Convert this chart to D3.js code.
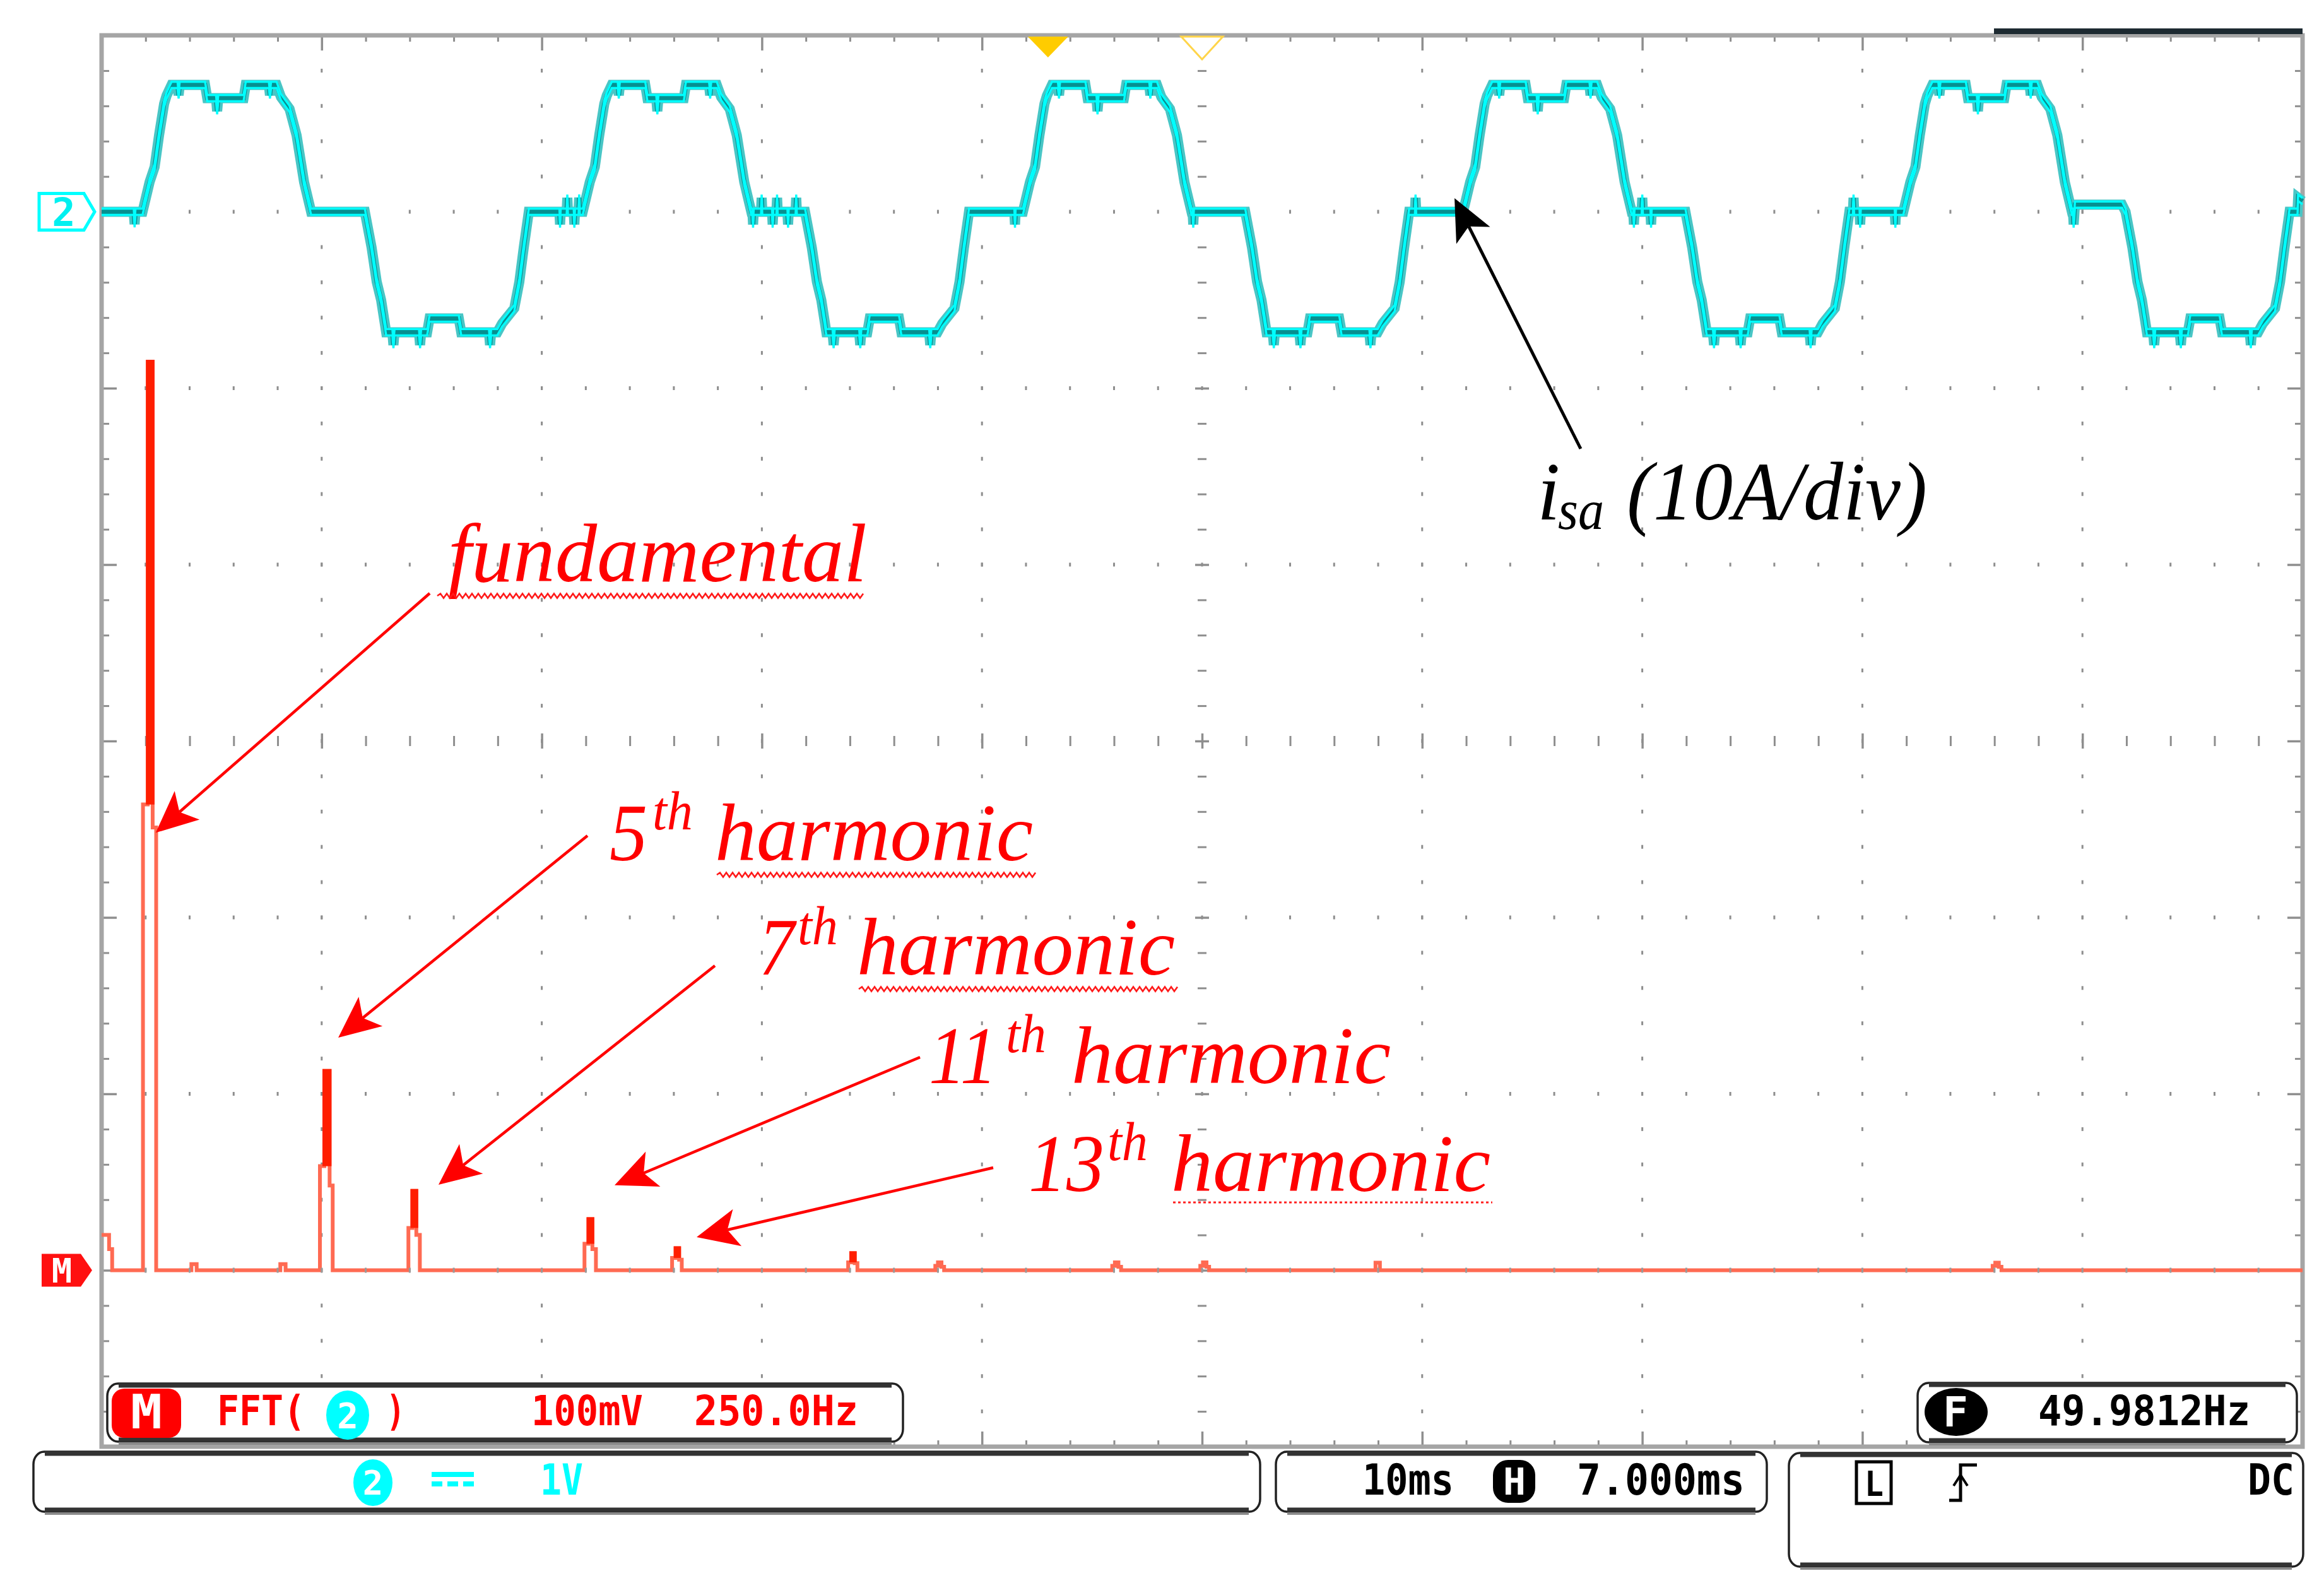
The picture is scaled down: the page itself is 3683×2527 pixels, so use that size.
<!DOCTYPE html>
<html><head><meta charset="utf-8">
<script src="https://cdn.jsdelivr.net/npm/d3@7"></script>
<style>html,body{margin:0;padding:0;background:#fff}svg{display:block}</style>
</head><body><svg id="c"></svg>
<script>
// ---------------- DATA ----------------
const timeDomainMs = [0, 100];      // 10 ms/div, 10 divisions
const currentDomainA = [-70, 10];   // 10 A/div, ch2 ground one division below top
const freqDomainHz = [0, 2500];     // FFT 250 Hz/div
const fftDomainMv = [-100, 700];    // FFT 100 mV/div, FFT reference two divisions above bottom

// measured phase current i_sa : [time ms, current A]
const isaCycle1 = [[0,0],[1.46,0],[1.5,-0.7],[1.54,0],[1.86,0],[2.18,1.68],[2.41,2.54],[2.61,4.33],[2.84,6.12],[2.95,6.58],[3.18,7.19],[3.45,7.19],[3.5,6.6],[3.55,7.19],[4.7,7.19],[4.8,6.44],[5.2,6.44],[5.25,5.7],[5.3,6.44],[6.45,6.44],[6.55,7.19],[7.6,7.19],[7.65,6.6],[7.7,7.19],[7.95,7.19],[8.15,6.5],[8.54,5.83],[8.86,4.33],[9.2,1.68],[9.52,0],[11.96,0],[12.27,-2.04],[12.5,-3.97],[12.7,-5],[12.93,-6.83],[13.21,-6.83],[13.26,-7.55],[13.31,-6.83],[14.42,-6.83],[14.47,-7.55],[14.52,-6.83],[14.79,-6.83],[14.9,-6.05],[16.23,-6.05],[16.34,-6.83],[17.6,-6.83],[17.65,-7.55],[17.7,-6.83],[17.98,-6.83],[18.2,-6.33],[18.75,-5.47],[18.98,-3.97],[19.18,-2.04],[19.41,0]];
const isaCycle2 = [[20.8,0],[20.83,-0.72],[20.86,0],[21.13,0],[21.16,0.79],[21.19,0],[21.45,0],[21.48,-0.72],[21.51,0],[21.67,0],[21.7,0.8],[21.73,0],[21.86,0],[22.18,1.68],[22.41,2.54],[22.61,4.33],[22.84,6.12],[22.95,6.58],[23.18,7.19],[23.45,7.19],[23.5,6.6],[23.55,7.19],[24.7,7.19],[24.8,6.44],[25.2,6.44],[25.25,5.7],[25.3,6.44],[26.45,6.44],[26.55,7.19],[27.6,7.19],[27.65,6.6],[27.7,7.19],[27.95,7.19],[28.15,6.5],[28.54,5.83],[28.86,4.33],[29.2,1.68],[29.52,0],[29.57,0],[29.6,-0.72],[29.63,0],[29.96,0],[29.99,0.79],[30.02,0],[30.46,0],[30.49,-0.72],[30.52,0],[30.66,0],[30.69,0.79],[30.72,0],[31.16,0],[31.19,-0.72],[31.22,0],[31.53,0],[31.56,0.79],[31.59,0],[31.96,0],[32.27,-2.04],[32.5,-3.97],[32.7,-5],[32.93,-6.83],[33.21,-6.83],[33.26,-7.55],[33.31,-6.83],[34.42,-6.83],[34.47,-7.55],[34.52,-6.83],[34.79,-6.83],[34.9,-6.05],[36.23,-6.05],[36.34,-6.83],[37.6,-6.83],[37.65,-7.55],[37.7,-6.83],[37.98,-6.83],[38.2,-6.33],[38.75,-5.47],[38.98,-3.97],[39.18,-2.04],[39.41,0]];
const isaCycle3 = [[41.47,0],[41.5,-0.72],[41.53,0],[41.86,0],[42.18,1.68],[42.41,2.54],[42.61,4.33],[42.84,6.12],[42.95,6.58],[43.18,7.19],[43.45,7.19],[43.5,6.6],[43.55,7.19],[44.7,7.19],[44.8,6.44],[45.2,6.44],[45.25,5.7],[45.3,6.44],[46.45,6.44],[46.55,7.19],[47.6,7.19],[47.65,6.6],[47.7,7.19],[47.95,7.19],[48.15,6.5],[48.54,5.83],[48.86,4.33],[49.2,1.68],[49.52,0],[49.57,0],[49.6,-0.72],[49.63,0],[51.96,0],[52.27,-2.04],[52.5,-3.97],[52.7,-5],[52.93,-6.83],[53.21,-6.83],[53.26,-7.55],[53.31,-6.83],[54.42,-6.83],[54.47,-7.55],[54.52,-6.83],[54.79,-6.83],[54.9,-6.05],[56.23,-6.05],[56.34,-6.83],[57.6,-6.83],[57.65,-7.55],[57.7,-6.83],[57.98,-6.83],[58.2,-6.33],[58.75,-5.47],[58.98,-3.97],[59.18,-2.04],[59.41,0]];
const isaCycle4 = [[59.67,0],[59.7,0.79],[59.73,0],[61.86,0],[62.18,1.68],[62.41,2.54],[62.61,4.33],[62.84,6.12],[62.95,6.58],[63.18,7.19],[63.45,7.19],[63.5,6.6],[63.55,7.19],[64.7,7.19],[64.8,6.44],[65.2,6.44],[65.25,5.7],[65.3,6.44],[66.45,6.44],[66.55,7.19],[67.6,7.19],[67.65,6.6],[67.7,7.19],[67.95,7.19],[68.15,6.5],[68.54,5.83],[68.86,4.33],[69.2,1.68],[69.52,0],[69.59,0],[69.62,-0.72],[69.65,0],[69.97,0],[70,0.79],[70.03,0],[70.37,0],[70.4,-0.72],[70.43,0],[71.96,0],[72.27,-2.04],[72.5,-3.97],[72.7,-5],[72.93,-6.83],[73.21,-6.83],[73.26,-7.55],[73.31,-6.83],[74.42,-6.83],[74.47,-7.55],[74.52,-6.83],[74.79,-6.83],[74.9,-6.05],[76.23,-6.05],[76.34,-6.83],[77.6,-6.83],[77.65,-7.55],[77.7,-6.83],[77.98,-6.83],[78.2,-6.33],[78.75,-5.47],[78.98,-3.97],[79.18,-2.04],[79.41,0]];
const isaCycle5 = [[79.57,0],[79.6,0.79],[79.63,0],[79.87,0],[79.9,-0.72],[79.93,0],[81.47,0],[81.5,-0.72],[81.53,0],[81.86,0],[82.18,1.68],[82.41,2.54],[82.61,4.33],[82.84,6.12],[82.95,6.58],[83.18,7.19],[83.45,7.19],[83.5,6.6],[83.55,7.19],[84.7,7.19],[84.8,6.44],[85.2,6.44],[85.25,5.7],[85.3,6.44],[86.45,6.44],[86.55,7.19],[87.6,7.19],[87.65,6.6],[87.7,7.19],[87.95,7.19],[88.15,6.5],[88.54,5.83],[88.86,4.33],[89.2,1.68],[89.52,0],[89.57,0],[89.6,-0.72],[89.66,0.4],[91.8,0.4],[91.96,0],[92.27,-2.04],[92.5,-3.97],[92.7,-5],[92.93,-6.83],[93.21,-6.83],[93.26,-7.55],[93.31,-6.83],[94.42,-6.83],[94.47,-7.55],[94.52,-6.83],[94.79,-6.83],[94.9,-6.05],[96.23,-6.05],[96.34,-6.83],[97.6,-6.83],[97.65,-7.55],[97.7,-6.83],[97.98,-6.83],[98.2,-6.33],[98.75,-5.47],[98.98,-3.97],[99.18,-2.04],[99.41,0],[99.77,0],[99.8,0.79],[100,0.6]];

// FFT of ch2 : stepped spectrum, bin start frequency (Hz) and magnitude (mV)
const fftHz = [0,8.5,12, 47,52.5,58,62, 102,108, 203,209, 248,253,259,262.5, 348.5,353,357.5,361.5, 548.5,553,557.5,561.5, 648,652,656,659, 848,851.5,855.5,858.5, 947,950,954,957, 1148,1151,1155,1158, 1248,1251,1255,1258, 1447,1452, 2148,2151,2155,2158];
const fftMv = [20,12,0, 264,515,251,0, 3.5,0, 3.5,0, 59,113,48,0, 24,45,20,0, 15,29,12,0, 7,12.5,6,0, 4.5,9.7,4,0, 2.5,4.5,2,0, 2.5,4.5,2,0, 2.5,4.5,2,0, 4.3,0, 2.5,4.3,2,0];

// annotation targets [Hz, mV] for the harmonic arrows
const harmonicOrders = ["", "5", "7", "11", "13"];
const harmonicArrowHz = [61.5, 268.8, 382.7, 582.7, 675.9];
const harmonicArrowMv = [248, 131.8, 48.5, 48.2, 18.8];
const isaArrowPoint = [61.47, 0.77];

// readout texts
const fftReadout = ["FFT(", ")", "100mV", "250.0Hz"];
const chReadout = ["1V"];
const timeReadout = ["10ms", "7.000ms"];
const freqReadout = ["49.9812Hz"];
const triggerOffsetMs = 7.0;

// ---------------- SETUP ----------------
const W = 3683, H = 2527;
const svg = d3.select("#c").attr("width", W).attr("height", H);
svg.append("rect").attr("width", W).attr("height", H).attr("fill", "#fff");

const X0 = 161, X1 = 3649, Y0 = 56, Y1 = 2292;
const xTime = d3.scaleLinear().domain(timeDomainMs).range([X0, X1]);
const yCur = d3.scaleLinear().domain(currentDomainA).range([Y1, Y0]);
const xFreq = d3.scaleLinear().domain(freqDomainHz).range([X0, X1]);
const yFft = d3.scaleLinear().domain(fftDomainMv).range([Y1, Y0]);

const msMinor = d3.range(0, 101, 2).filter(v => v % 10 !== 0);
const msMajor = d3.range(10, 100, 10);
const msAll = d3.range(2, 100, 2);
const aMinor = d3.range(-70, 11, 2).filter(v => v % 10 !== 0);
const aMajor = d3.range(-60, 10, 10);
const aAll = d3.range(-68, 10, 2);

const GRID = "#8e8e8e";
function axisG(parent, axis, tx, ty, w) {
  const g = parent.append("g").attr("transform", `translate(${tx},${ty})`).call(axis);
  g.select(".domain").remove();
  g.selectAll("text").remove();
  g.selectAll("line").attr("stroke", GRID).attr("stroke-width", w);
  return g;
}

// ---------------- GRATICULE ----------------
const grid = svg.append("g");
aMajor.filter(a => a !== -30).forEach(a => {
  grid.append("g").selectAll("rect").data(msAll).join("rect")
    .attr("x", d => xTime(d) - 1.5).attr("y", yCur(a) - 3).attr("width", 3).attr("height", 6).attr("fill", GRID);
});
msMajor.filter(m => m !== 50).forEach(m => {
  grid.append("g").selectAll("rect").data(aAll).join("rect")
    .attr("x", xTime(m) - 1.5).attr("y", d => yCur(d) - 3).attr("width", 3).attr("height", 6).attr("fill", GRID);
});
axisG(grid, d3.axisBottom(xTime).tickValues(msMinor).tickSize(16).tickFormat(""), 0, yCur(-30) - 8, 3);
axisG(grid, d3.axisBottom(xTime).tickValues(msMajor).tickSize(24).tickFormat(""), 0, yCur(-30) - 12, 3.5);
axisG(grid, d3.axisRight(yCur).tickValues(aMinor).tickSize(14).tickFormat(""), xTime(50) - 7, 0, 3);
axisG(grid, d3.axisRight(yCur).tickValues(aMajor).tickSize(22).tickFormat(""), xTime(50) - 11, 0, 3.5);
axisG(grid, d3.axisBottom(xTime).tickValues(msMinor).tickSize(10).tickFormat(""), 0, Y0, 3);
axisG(grid, d3.axisBottom(xTime).tickValues(msMajor).tickSize(24).tickFormat(""), 0, Y0, 3.5);
axisG(grid, d3.axisTop(xTime).tickValues(msMinor).tickSize(10).tickFormat(""), 0, Y1, 3);
axisG(grid, d3.axisTop(xTime).tickValues(msMajor).tickSize(24).tickFormat(""), 0, Y1, 3.5);
axisG(grid, d3.axisRight(yCur).tickValues(aMinor).tickSize(12).tickFormat(""), X0, 0, 3);
axisG(grid, d3.axisRight(yCur).tickValues(aMajor).tickSize(24).tickFormat(""), X0, 0, 3.5);
axisG(grid, d3.axisLeft(yCur).tickValues(aMinor).tickSize(12).tickFormat(""), X1, 0, 3);
axisG(grid, d3.axisLeft(yCur).tickValues(aMajor).tickSize(24).tickFormat(""), X1, 0, 3.5);
grid.append("rect").attr("x", X0).attr("y", Y0).attr("width", X1 - X0).attr("height", Y1 - Y0)
  .attr("fill", "none").attr("stroke", "#a5a5a5").attr("stroke-width", 7);
svg.append("rect").attr("x", 3160).attr("y", 45).attr("width", X1 - 3160).attr("height", 9).attr("fill", "#1d2a31");

const trigX = xTime(50 - triggerOffsetMs), cenX = xTime(50);
svg.append("path").attr("d", `M${trigX - 32},${Y0 + 2} L${trigX + 32},${Y0 + 2} L${trigX},${Y0 + 35} Z`).attr("fill", "#ffcc00");
svg.append("path").attr("d", `M${cenX - 33},${Y0 + 2} L${cenX + 33},${Y0 + 2} L${cenX},${Y0 + 38} Z`).attr("fill", "#fff").attr("stroke", "#ffd54a").attr("stroke-width", 3);

// ---------------- FFT TRACE ----------------
const fftPts = fftHz.map((h, i) => [h, fftMv[i]]);
fftPts.push([freqDomainHz[1], 0]);
const fftLine = d3.line().x(d => xFreq(d[0])).y(d => yFft(d[1])).curve(d3.curveStepAfter);
const fftG = svg.append("g");
fftG.append("path").attr("d", fftLine(fftPts)).attr("fill", "none")
  .attr("stroke", "#ff6a52").attr("stroke-width", 6).attr("stroke-linejoin", "miter");
fftPts.forEach((p, i) => {
  if (i === 0 || i >= fftPts.length - 1) return;
  const prev = fftPts[i - 1][1], next = fftPts[i + 1][1];
  if (p[1] > prev && p[1] > next && p[1] >= 9) {
    const xa = xFreq(p[0]), xb = xFreq(fftPts[i + 1][0]);
    const yt = yFft(p[1]), yb = yFft(Math.max(prev, next));
    fftG.append("rect").attr("x", xa - 3).attr("y", yt - 3).attr("width", xb - xa + 6).attr("height", yb - yt + 3).attr("fill", "#ff1e00");
  }
});
svg.append("g").selectAll("rect").data(msAll).join("rect")
  .attr("x", d => xTime(d) - 1.5).attr("y", yFft(0) - 4).attr("width", 3).attr("height", 8).attr("fill", "#9a9a9a");

// ---------------- CURRENT TRACE ----------------
const isaTrace = [].concat(isaCycle1, isaCycle2, isaCycle3, isaCycle4, isaCycle5);
const curLine = d3.line().x(d => xTime(d[0])).y(d => yCur(d[1]));
const tg = svg.append("g").attr("fill", "none").attr("stroke-linejoin", "miter");
tg.append("path").attr("d", curLine(isaTrace)).attr("stroke", "#48c6c6").attr("stroke-width", 16);
tg.append("path").attr("d", curLine(isaTrace)).attr("stroke", "#078f90").attr("stroke-width", 7);
tg.append("path").attr("d", curLine(isaTrace)).attr("transform", "translate(0,-5)").attr("stroke", "#00ffff").attr("stroke-width", 3.4);
tg.append("path").attr("d", curLine(isaTrace)).attr("transform", "translate(0,5)").attr("stroke", "#00ffff").attr("stroke-width", 3.4);

// channel markers
svg.append("path").attr("d", `M62,${yCur(0) - 29} H133 L150,${yCur(0)} L133,${yCur(0) + 29} H62 Z`)
  .attr("fill", "#fff").attr("stroke", "#00ffff").attr("stroke-width", 5);
svg.append("text").attr("x", 101).attr("y", yCur(0) + 22).attr("text-anchor", "middle")
  .attr("font-family", "DejaVu Sans Mono").attr("font-weight", "bold").attr("font-size", 62).attr("fill", "#00f0f0").text("2");
svg.append("path").attr("d", `M66,${yFft(0) - 26} H128 L146,${yFft(0)} L128,${yFft(0) + 26} H66 Z`).attr("fill", "#ff1010");
svg.append("text").attr("x", 98).attr("y", yFft(0) + 19).attr("text-anchor", "middle")
  .attr("font-family", "DejaVu Sans Mono").attr("font-weight", "bold").attr("font-size", 54).attr("fill", "#fff").text("M");

// ---------------- ANNOTATIONS ----------------
const ann = svg.append("g");
function arrow(x0, y0, x1, y1, color, w) {
  const dx = x1 - x0, dy = y1 - y0, L = Math.hypot(dx, dy), ux = dx / L, uy = dy / L, px = -uy, py = ux;
  const len = 66, hw = 30, notch = 50;
  const bx = x1 - ux * len, by = y1 - uy * len, nx = x1 - ux * notch, ny = y1 - uy * notch;
  ann.append("line").attr("x1", x0).attr("y1", y0).attr("x2", nx).attr("y2", ny).attr("stroke", color).attr("stroke-width", w);
  ann.append("path").attr("d", `M${x1},${y1} L${bx + px * hw},${by + py * hw} L${nx},${ny} L${bx - px * hw},${by - py * hw} Z`).attr("fill", color);
}
function squiggle(x0, x1, y) {
  let d = `M${x0},${y}`, up = true;
  for (let x = x0 + 5; x <= x1; x += 5) { d += ` L${x},${y + (up ? -3.5 : 3.5)}`; up = !up; }
  ann.append("path").attr("d", d).attr("fill", "none").attr("stroke", "#ff1a1a").attr("stroke-width", 2.6);
}
function serif(txt, x, y, size, len, color) {
  const t = ann.append("text").attr("x", x).attr("y", y).attr("font-family", "Liberation Serif, Times New Roman, serif")
    .attr("font-style", "italic").attr("font-size", size).attr("fill", color).text(txt);
  if (len) t.attr("textLength", len).attr("lengthAdjust", "spacingAndGlyphs");
  return t;
}
const RED = "#ff0000";
const labelLayout = [
  {word: "fundamental", wx: 710, wy: 921, wl: 664, arrowFrom: [681, 940], sq: [693, 1372, 944]},
  {nx: 966, nl: 60, sx: 1034, sy: 1314, wx: 1133, wy: 1363, wl: 504, arrowFrom: [931, 1324], sq: [1136, 1641, 1386]},
  {nx: 1203, nl: 56, sx: 1264, sy: 1496, wx: 1358, wy: 1544, wl: 504, arrowFrom: [1133, 1530], sq: [1361, 1867, 1567]},
  {nx: 1472, nl: 108, sx: 1594, sy: 1667, wx: 1698, wy: 1716, wl: 506, arrowFrom: [1458, 1675]},
  {nx: 1630, nl: 120, sx: 1755, sy: 1838, wx: 1856, wy: 1887, wl: 506, arrowFrom: [1574, 1850], dots: [1859, 2365, 1905]}
];
labelLayout.forEach((L, i) => {
  if (i === 0) serif(L.word, L.wx, L.wy, 131, L.wl, RED);
  else {
    serif(harmonicOrders[i], L.nx, L.wy, 130, L.nl, RED);
    serif("th", L.sx, L.sy, 86, 64, RED);
    serif("harmonic", L.wx, L.wy, 130, L.wl, RED);
  }
  if (L.sq) squiggle(L.sq[0], L.sq[1], L.sq[2]);
  if (L.dots) ann.append("line").attr("x1", L.dots[0]).attr("x2", L.dots[1]).attr("y1", L.dots[2]).attr("y2", L.dots[2])
    .attr("stroke", "#ff2020").attr("stroke-width", 3).attr("stroke-dasharray", "4 4");
  arrow(L.arrowFrom[0], L.arrowFrom[1], xFreq(harmonicArrowHz[i]), yFft(harmonicArrowMv[i]), RED, 4.5);
});
serif("i", 2436, 823, 131, null, "#000");
serif("sa", 2469, 838, 88, 73, "#000");
serif("(10A/div)", 2578, 823, 131, 476, "#000");
arrow(2505, 711, xTime(isaArrowPoint[0]), yCur(isaArrowPoint[1]), "#000", 5);

// ---------------- READOUT BOXES ----------------
const ro = svg.append("g");
function box(x, y, w, h) {
  ro.append("rect").attr("x", x).attr("y", y).attr("width", w).attr("height", h).attr("rx", 17).attr("ry", 20)
    .attr("fill", "#fff").attr("stroke", "#222").attr("stroke-width", 3.5);
  ro.append("line").attr("x1", x + 18).attr("x2", x + w - 18).attr("y1", y + 3).attr("y2", y + 3).attr("stroke", "#333").attr("stroke-width", 7);
  ro.append("line").attr("x1", x + 18).attr("x2", x + w - 18).attr("y1", y + h - 3).attr("y2", y + h - 3).attr("stroke", "#333").attr("stroke-width", 7);
  ro.append("line").attr("x1", x + 18).attr("x2", x + w - 18).attr("y1", y + h + 3).attr("y2", y + h + 3).attr("stroke", "#8a8a8a").attr("stroke-width", 4);
}
function mono(txt, x, y, size, len, color, anchor) {
  const t = ro.append("text").attr("x", x).attr("y", y).attr("font-family", "DejaVu Sans Mono, monospace")
    .attr("font-weight", "bold").attr("font-size", size).attr("fill", color).text(txt);
  if (len) t.attr("textLength", len).attr("lengthAdjust", "spacingAndGlyphs");
  if (anchor) t.attr("text-anchor", anchor);
  return t;
}
box(170, 2192, 1261, 92);
ro.append("rect").attr("x", 177).attr("y", 2200).attr("width", 110).attr("height", 78).attr("rx", 20).attr("fill", "#ff0000");
mono("M", 232, 2263, 74, 50, "#fff", "middle");
mono(fftReadout[0], 344, 2258, 66, 140, "#ff0000");
ro.append("ellipse").attr("cx", 551).attr("cy", 2242).attr("rx", 34).attr("ry", 39).attr("fill", "#00ffff");
mono("2", 551, 2262, 56, null, "#fff", "middle");
mono(fftReadout[1], 612, 2258, 66, 30, "#ff0000");
mono(fftReadout[2], 842, 2258, 66, 177, "#ff0000");
mono(fftReadout[3], 1100, 2258, 66, 260, "#ff0000");
box(3039, 2191, 601, 94);
ro.append("ellipse").attr("cx", 3100).attr("cy", 2237).attr("rx", 50).attr("ry", 38).attr("fill", "#000");
mono("F", 3099, 2260, 66, 40, "#fff", "middle");
mono(freqReadout[0], 3230, 2258, 66, 336, "#000");
box(53, 2300, 1944, 95);
ro.append("ellipse").attr("cx", 591).attr("cy", 2349).attr("rx", 31).attr("ry", 37).attr("fill", "#00ffff");
mono("2", 591, 2368, 54, null, "#fff", "middle");
ro.append("rect").attr("x", 684).attr("y", 2332).attr("width", 67).attr("height", 8).attr("fill", "#00ffff");
[684, 709, 734].forEach(x => ro.append("rect").attr("x", x).attr("y", 2347).attr("width", 17).attr("height", 8).attr("fill", "#00ffff"));
mono(chReadout[0], 856, 2368, 68, 68, "#00ffff");
box(2022, 2300, 778, 95);
mono(timeReadout[0], 2159, 2368, 68, 145, "#000");
ro.append("rect").attr("x", 2366).attr("y", 2313).attr("width", 67).attr("height", 68).attr("rx", 24).attr("fill", "#000");
mono("H", 2400, 2368, 58, 36, "#fff", "middle");
mono(timeReadout[1], 2499, 2368, 68, 266, "#000");
box(2835, 2302, 815, 180);
ro.append("rect").attr("x", 2942).attr("y", 2316).attr("width", 55).attr("height", 66).attr("fill", "none").attr("stroke", "#000").attr("stroke-width", 5);
mono("L", 2970, 2370, 56, 30, "#000", "middle");
ro.append("path").attr("d", "M3089,2377 H3107 V2321 H3133").attr("fill", "none").attr("stroke", "#000").attr("stroke-width", 5);
ro.append("path").attr("d", "M3096,2354 L3107,2337 L3118,2354").attr("fill", "none").attr("stroke", "#000").attr("stroke-width", 4);
mono("DC", 3562, 2368, 68, 74, "#000");
</script></body></html>
